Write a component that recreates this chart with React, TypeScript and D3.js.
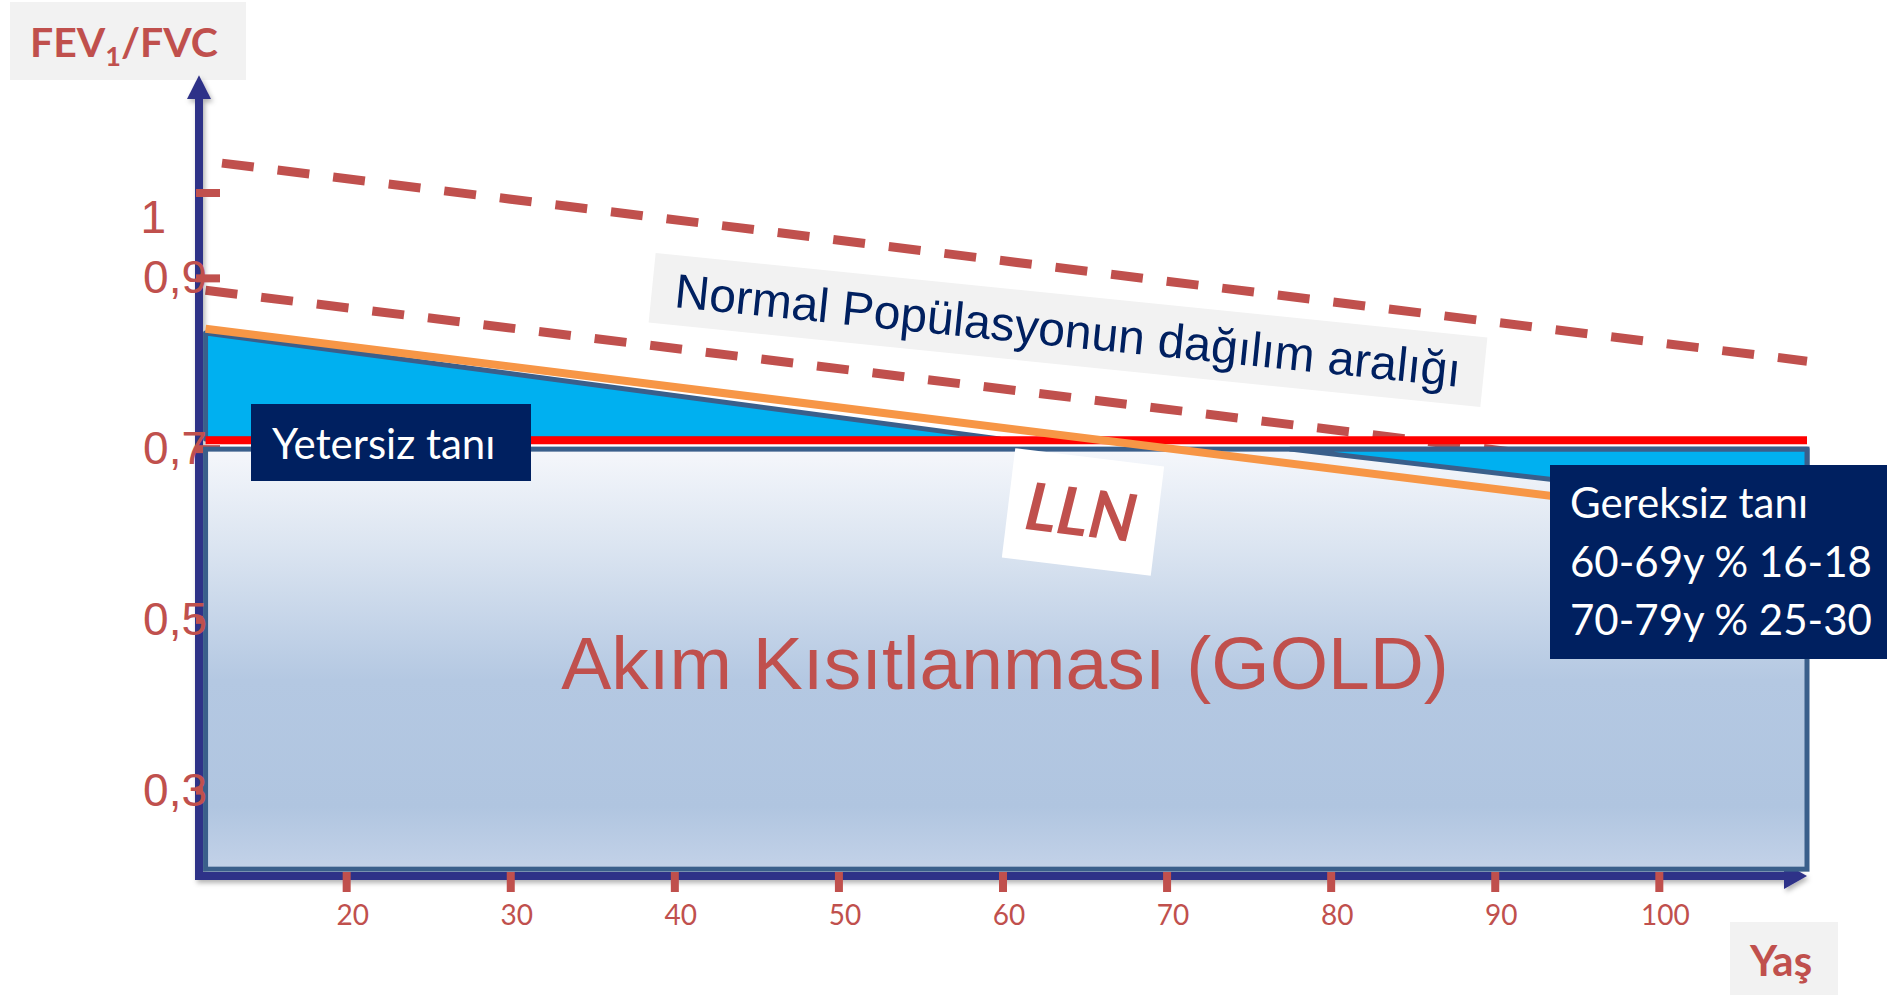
import React from 'react'
import * as d3 from 'd3'

// x = age (years), y = FEV1/FVC ratio
const xTicks = [20, 30, 40, 50, 60, 70, 80, 90, 100]
const yTicks = [1, 0.9, 0.7, 0.5, 0.3]
const yTickLabels = ['1', '0,9', '0,7', '0,5', '0,3']

const fixedRatio = 0.7
const boxAges = [11.4, 109]
const boxFloor = 0.208

// normal population band (dashed)
const upperNormal = [
  { age: 12.4, ratio: 1.035 },
  { age: 109, ratio: 0.803 },
]
const lowerNormal = [
  { age: 11.4, ratio: 0.886 },
  { age: 109, ratio: 0.654 },
]
// lower limit of normal
const lln = [
  { age: 11.4, ratio: 0.841 },
  { age: 109, ratio: 0.608 },
]
// under diagnosis (LLN above 0.7) and over diagnosis (LLN below 0.7)
const underDiag = [
  { age: 11.4, ratio: 0.836 },
  { age: 59.8, ratio: 0.712 },
  { age: 11.4, ratio: 0.712 },
]
const overDiag = [
  { age: 77.5, ratio: 0.7 },
  { age: 109, ratio: 0.7 },
  { age: 109, ratio: 0.63 },
]

const RED = '#c0504d'
const NAVY = '#2e3088'
const EDGE = '#3a5f8b'

const x = d3.scaleLinear().domain([11, 109]).range([199, 1807])
const y = d3.scaleLinear().domain([0.2, 1]).range([876, 193])

type Pt = { age: number; ratio: number }
const line = d3
  .line<Pt>()
  .x((d) => x(d.age))
  .y((d) => y(d.ratio))

const App = () => {
  const x0 = x(11)
  const y0 = y(0.2)
  return (
    <svg
      width={1887}
      height={995}
      style={{ position: 'absolute', left: 0, top: 0, background: '#fff' }}
    >
      <defs>
        <linearGradient id="boxFill" x1="0" y1="0" x2="0" y2="1">
          <stop offset="0" stopColor="#f5f7fb" />
          <stop offset="0.25" stopColor="#d9e3f0" />
          <stop offset="0.55" stopColor="#b4c8e2" />
          <stop offset="0.85" stopColor="#b0c5e0" />
          <stop offset="1" stopColor="#c3d2e8" />
        </linearGradient>
        <filter id="shadow" x="-5%" y="-5%" width="110%" height="130%">
          <feDropShadow dx="2" dy="3" stdDeviation="2.5" floodColor="#000" floodOpacity="0.3" />
        </filter>
      </defs>

      {/* axis titles */}
      <rect x={10} y={2} width={236} height={78} fill="#f2f2f2" />
      <text x={30} y={57} fill={RED} fontFamily="Lato" fontWeight="bold" fontSize={41}>
        FEV<tspan fontSize={27} dy={9}>1</tspan>
        <tspan dy={-9}>/FVC</tspan>
      </text>
      <rect x={1730} y={922} width={108} height={73} fill="#f2f2f2" />
      <text x={1781} y={976} textAnchor="middle" fill={RED} fontFamily="Lato" fontWeight="bold" fontSize={42}>
        Yaş
      </text>

      {/* normal population band */}
      <path d={line(upperNormal) ?? ''} fill="none" stroke={RED} strokeWidth={9} strokeDasharray="32 24" />
      <path d={line(lowerNormal) ?? ''} fill="none" stroke={RED} strokeWidth={9} strokeDasharray="32 24" />

      {/* axes */}
      <g filter="url(#shadow)">
        <line x1={x0} x2={x0} y1={y(0.204)} y2={y(1.11)} stroke={NAVY} strokeWidth={8} />
        <path d={`M${x0},${y(1.138)}L${x0 - 12},${y(1.11)}L${x0 + 12},${y(1.11)}Z`} fill={NAVY} />
        <line x1={x0 - 4} x2={x(107.6)} y1={y0} y2={y0} stroke={NAVY} strokeWidth={8} />
        <path d={`M${x(109)},${y0}L${x(107.6)},${y0 - 13}L${x(107.6)},${y0 + 13}Z`} fill={NAVY} />
      </g>

      {/* ticks */}
      {yTicks.map((v) => (
        <rect key={'yt' + v} x={x0 - 3} y={y(v) - 4} width={24} height={8} fill={RED} />
      ))}
      {xTicks.map((v) => (
        <rect key={'xt' + v} x={x(v) - 4} y={y0 - 4} width={8} height={20} fill={RED} />
      ))}
      {xTicks.map((v) => (
        <text key={'xl' + v} x={x(v) + 6} y={y0 + 49} textAnchor="middle" fill={RED} fontFamily="Lato" fontSize={28}>
          {v}
        </text>
      ))}

      {/* airflow limitation box */}
      <rect
        x={x(boxAges[0])}
        y={y(fixedRatio)}
        width={x(boxAges[1]) - x(boxAges[0])}
        height={y(boxFloor) - y(fixedRatio)}
        fill="url(#boxFill)"
        stroke={EDGE}
        strokeWidth={5}
      />
      <path d={(line(underDiag) ?? '') + 'Z'} fill="#00b0f0" stroke={EDGE} strokeWidth={5} strokeLinejoin="round" />
      <path d={(line(overDiag) ?? '') + 'Z'} fill="#00b0f0" stroke={EDGE} strokeWidth={5} strokeLinejoin="round" />
      <line
        x1={x(boxAges[0])}
        x2={x(boxAges[1])}
        y1={y(fixedRatio) - 9}
        y2={y(fixedRatio) - 9}
        stroke="#ff0000"
        strokeWidth={8}
      />
      <path d={line(lln) ?? ''} fill="none" stroke="#f79646" strokeWidth={8} />

      {/* y tick labels */}
      {yTicks.map((v, i) => (
        <text
          key={'yl' + v}
          x={v === 1 ? 166 : 207}
          y={y(v) + (v === 1 ? 40 : 15)}
          textAnchor="end"
          fill={RED}
          fontFamily="Liberation Sans"
          fontSize={46}
        >
          {yTickLabels[i]}
        </text>
      ))}

      <text x={1005} y={689} textAnchor="middle" fill={RED} fontFamily="Liberation Sans" fontSize={75}>
        Akım Kısıtlanması (GOLD)
      </text>

      {/* annotations */}
      <g transform="translate(1068,330) rotate(5.8)">
        <rect x={-418} y={-35} width={836} height={70} fill="#f2f2f2" />
        <text x={0} y={17} textAnchor="middle" fill="#002060" fontFamily="Liberation Sans" fontSize={48}>
          Normal Popülasyonun dağılım aralığı
        </text>
      </g>

      <g transform="translate(1083,512) rotate(7)">
        <rect x={-75} y={-55} width={150} height={110} fill="#fff" />
        <text x={-2} y={24} textAnchor="middle" fill={RED} fontFamily="Lato" fontWeight="bold" fontStyle="italic" fontSize={66}>
          LLN
        </text>
      </g>

      <rect x={251} y={404} width={280} height={77} fill="#002060" />
      <text x={272} y={459} fill="#fff" fontFamily="Lato" fontSize={42}>
        Yetersiz tanı
      </text>

      <rect x={1550} y={465} width={337} height={194} fill="#002060" />
      <g fill="#fff" fontFamily="Lato" fontSize={42}>
        <text x={1570} y={518}>Gereksiz tanı</text>
        <text x={1570} y={577}>60-69y % 16-18</text>
        <text x={1570} y={635}>70-79y % 25-30</text>
      </g>
    </svg>
  )
}

export default App
